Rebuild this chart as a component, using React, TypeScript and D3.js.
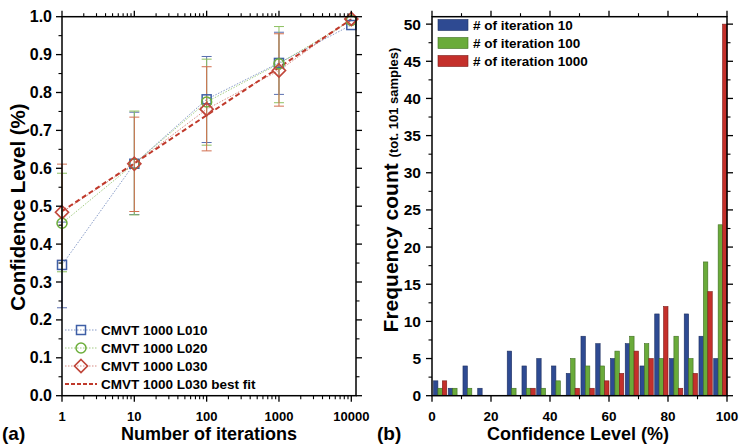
import React from "react";
import * as d3 from "d3";

// ---------- Panel (a) data ----------
const iterations = [1, 10, 100, 1000, 10000];
const l010 = [0.345, 0.612, 0.782, 0.878, 0.978];
const l010Lo = [0.232, 0.478, 0.668, 0.795, 0.978];
const l010Hi = [0.458, 0.748, 0.895, 0.959, 0.978];
const l020 = [0.455, 0.612, 0.775, 0.876, 0.99];
const l020Lo = [0.327, 0.477, 0.661, 0.773, 0.99];
const l020Hi = [0.587, 0.751, 0.888, 0.974, 0.99];
const l030 = [0.484, 0.612, 0.756, 0.858, 0.994];
const l030Lo = [0.357, 0.486, 0.646, 0.764, 0.994];
const l030Hi = [0.611, 0.735, 0.868, 0.955, 0.994];
const l030Fit = [0.487, 0.613, 0.74, 0.866, 0.993];
const seriesNamesA = ["CMVT 1000 L010", "CMVT 1000 L020", "CMVT 1000 L030", "CMVT 1000 L030 best fit"];
const yTicksA = [0, 0.1, 0.2, 0.3, 0.4, 0.5, 0.6, 0.7, 0.8, 0.9, 1.0];
const xTicksA = [1, 10, 100, 1000, 10000];

// ---------- Panel (b) data ----------
const binStarts = [0, 5, 10, 15, 20, 25, 30, 35, 40, 45, 50, 55, 60, 65, 70, 75, 80, 85, 90, 95];
const iter10 = [2, 1, 4, 1, 0, 6, 4, 5, 4, 3, 8, 7, 5, 7, 4, 11, 5, 11, 8, 5];
const iter100 = [1, 1, 1, 0, 0, 1, 1, 1, 2, 5, 4, 4, 6, 8, 7, 5, 8, 5, 18, 23];
const iter1000 = [2, 0, 0, 0, 0, 0, 1, 0, 0, 1, 1, 2, 3, 6, 5, 12, 1, 3, 14, 50];
const seriesNamesB = ["# of iteration 10", "# of iteration 100", "# of iteration 1000"];
const yTicksB = [0, 5, 10, 15, 20, 25, 30, 35, 40, 45, 50];
const xTicksB = [0, 20, 40, 60, 80, 100];

const FONT = "'Liberation Sans', Arial, sans-serif";
const colA = ["#3f5fa6", "#6cae3a", "#c0463a"];
const errA = ["#5a6fb0", "#8cc060", "#d27050"];
const colB = ["#2e4a92", "#6aab3a", "#c4302b"];
const strokeB = ["#1d2f60", "#3f6e20", "#7a1c18"];

function Marker({ kind, x, y, color }: { kind: number; x: number; y: number; color: string }) {
  if (kind === 0) return <rect x={x - 4.5} y={y - 4.5} width={9} height={9} fill="none" stroke={color} strokeWidth={1.5} />;
  if (kind === 1) return <circle cx={x} cy={y} r={5} fill="none" stroke={color} strokeWidth={1.5} />;
  return <path d={`M${x},${y - 6.5}L${x + 6.5},${y}L${x},${y + 6.5}L${x - 6.5},${y}Z`} fill="none" stroke={color} strokeWidth={1.7} />;
}

function PanelA() {
  const L = 62, R = 356, T = 16.7, B = 395.7;
  const x = d3.scaleLog().domain([1, Math.pow(10, 4.065)]).range([L, R]);
  const y = d3.scaleLinear().domain([0, 1]).range([B, T]);
  const vals = [l010, l020, l030];
  const los = [l010Lo, l020Lo, l030Lo];
  const his = [l010Hi, l020Hi, l030Hi];
  const minor: number[] = [];
  for (let k = 0; k < 4; k++) for (let m = 2; m <= 9; m++) minor.push(m * Math.pow(10, k));
  const yMinor = d3.range(0.05, 1, 0.1);
  const line = d3.line<number>().x((_, i) => x(iterations[i])).y((d) => y(d));
  return (
    <g>
      {vals.map((v, s) => (
        <path key={"l" + s} d={line(v) || ""} fill="none" stroke={colA[s]} strokeOpacity={0.7} strokeWidth={0.9} strokeDasharray="1.5,1.5" />
      ))}
      <path d={line(l030Fit) || ""} fill="none" stroke="#c0392b" strokeWidth={2} strokeDasharray="5,3" />
      {vals.map((v, s) =>
        iterations.map((it, i) =>
          his[s][i] - los[s][i] > 0.01 ? (
            <g key={"e" + s + i} stroke={errA[s]} strokeWidth={1}>
              <line x1={x(it)} x2={x(it)} y1={y(los[s][i])} y2={y(his[s][i])} />
              <line x1={x(it) - 5} x2={x(it) + 5} y1={y(los[s][i])} y2={y(los[s][i])} />
              <line x1={x(it) - 5} x2={x(it) + 5} y1={y(his[s][i])} y2={y(his[s][i])} />
            </g>
          ) : null
        )
      )}
      {vals.map((v, s) => v.map((d, i) => <Marker key={"m" + s + i} kind={s} x={x(iterations[i])} y={y(d)} color={colA[s]} />))}
      <rect x={L} y={T} width={R - L} height={B - T} fill="none" stroke="#000" strokeWidth={1.5} />
      {xTicksA.map((t) => (
        <g key={"xt" + t}>
          <line x1={x(t)} x2={x(t)} y1={B} y2={B + 6} stroke="#000" strokeWidth={1.3} />
          <line x1={x(t)} x2={x(t)} y1={T} y2={T - 6} stroke="#000" strokeWidth={1.3} />
          <text x={x(t)} y={B + 25} textAnchor="middle" fontSize={13} fontWeight="bold" fontFamily={FONT}>{t}</text>
        </g>
      ))}
      {minor.map((t) => (
        <g key={"xm" + t}>
          <line x1={x(t)} x2={x(t)} y1={B} y2={B + 3.5} stroke="#000" strokeWidth={1.1} />
          <line x1={x(t)} x2={x(t)} y1={T} y2={T - 3.5} stroke="#000" strokeWidth={1.1} />
        </g>
      ))}
      {yTicksA.map((t) => (
        <g key={"yt" + t}>
          <line x1={L} x2={L - 6} y1={y(t)} y2={y(t)} stroke="#000" strokeWidth={1.3} />
          <line x1={R} x2={R + 6} y1={y(t)} y2={y(t)} stroke="#000" strokeWidth={1.3} />
          <text x={L - 10} y={y(t) + 5.5} textAnchor="end" fontSize={16} fontWeight="bold" fontFamily={FONT}>{t.toFixed(1)}</text>
        </g>
      ))}
      {yMinor.map((t) => (
        <g key={"ym" + t}>
          <line x1={L} x2={L - 3.5} y1={y(t)} y2={y(t)} stroke="#000" strokeWidth={1.1} />
          <line x1={R} x2={R + 3.5} y1={y(t)} y2={y(t)} stroke="#000" strokeWidth={1.1} />
        </g>
      ))}
      {seriesNamesA.map((name, s) => {
        const ly = 330 + s * 18;
        return (
          <g key={"lg" + s}>
            {s < 3 ? (
              <>
                <line x1={65} x2={97} y1={ly} y2={ly} stroke={colA[s]} strokeOpacity={0.7} strokeWidth={0.9} strokeDasharray="1.5,1.5" />
                <Marker kind={s} x={81} y={ly} color={colA[s]} />
              </>
            ) : (
              <line x1={65} x2={97} y1={ly} y2={ly} stroke="#c0392b" strokeWidth={2} strokeDasharray="4,2" />
            )}
            <text x={101} y={ly + 5} fontSize={13.5} fontWeight="bold" fontFamily={FONT}>{name}</text>
          </g>
        );
      })}
      <text transform={`translate(25,207) rotate(-90)`} textAnchor="middle" fontSize={20.5} fontWeight="bold" fontFamily={FONT}>Confidence Level (%)</text>
      <text x={209} y={440} textAnchor="middle" fontSize={18} fontWeight="bold" fontFamily={FONT}>Number of iterations</text>
      <text x={2} y={440} fontSize={19} fontWeight="bold" fontFamily={FONT}>(a)</text>
    </g>
  );
}

function PanelB() {
  const L = 432, R = 727, T = 16.7, B = 395.7;
  const x = d3.scaleLinear().domain([0, 100]).range([L, R]);
  const y = d3.scaleLinear().domain([0, 51]).range([B, T]);
  const series = [iter10, iter100, iter1000];
  const sub = d3.scaleBand<number>().domain([0, 1, 2]).range([0.5, 5]);
  const xMinor = [10, 30, 50, 70, 90];
  const yMinor = d3.range(2.5, 51, 5);
  return (
    <g>
      {binStarts.map((b, i) =>
        series.map((s, k) =>
          s[i] > 0 ? (
            <rect key={"b" + i + k} x={x(b + (sub(k) as number))} width={x(sub.bandwidth()) - x(0)} y={y(s[i])} height={B - y(s[i])} fill={colB[k]} stroke={strokeB[k]} strokeWidth={0.6} />
          ) : null
        )
      )}
      <rect x={L} y={T} width={R - L} height={B - T} fill="none" stroke="#000" strokeWidth={1.5} />
      {xTicksB.map((t) => (
        <g key={"xt" + t}>
          <line x1={x(t)} x2={x(t)} y1={B} y2={B + 6} stroke="#000" strokeWidth={1.3} />
          <line x1={x(t)} x2={x(t)} y1={T} y2={T - 6} stroke="#000" strokeWidth={1.3} />
          <text x={x(t)} y={B + 25} textAnchor="middle" fontSize={13.5} fontWeight="bold" fontFamily={FONT}>{t}</text>
        </g>
      ))}
      {xMinor.map((t) => (
        <g key={"xm" + t}>
          <line x1={x(t)} x2={x(t)} y1={B} y2={B + 3.5} stroke="#000" strokeWidth={1.1} />
          <line x1={x(t)} x2={x(t)} y1={T} y2={T - 3.5} stroke="#000" strokeWidth={1.1} />
        </g>
      ))}
      {yTicksB.map((t) => (
        <g key={"yt" + t}>
          <line x1={L} x2={L - 6} y1={y(t)} y2={y(t)} stroke="#000" strokeWidth={1.3} />
          <line x1={R} x2={R + 6} y1={y(t)} y2={y(t)} stroke="#000" strokeWidth={1.3} />
          <text x={L - 11} y={y(t) + 5.5} textAnchor="end" fontSize={15.5} fontWeight="bold" fontFamily={FONT}>{t}</text>
        </g>
      ))}
      {yMinor.map((t) => (
        <g key={"ym" + t}>
          <line x1={L} x2={L - 3.5} y1={y(t)} y2={y(t)} stroke="#000" strokeWidth={1.1} />
          <line x1={R} x2={R + 3.5} y1={y(t)} y2={y(t)} stroke="#000" strokeWidth={1.1} />
        </g>
      ))}
      {seriesNamesB.map((name, k) => {
        const ly = 25 + k * 18;
        return (
          <g key={"lg" + k}>
            <rect x={438} y={ly - 5.5} width={30} height={11} fill={colB[k]} stroke={strokeB[k]} strokeWidth={0.6} />
            <text x={473} y={ly + 5} fontSize={13.5} fontWeight="bold" fontFamily={FONT}>{name}</text>
          </g>
        );
      })}
      <text transform={`translate(398,190) rotate(-90)`} textAnchor="middle" fontWeight="bold" fontFamily={FONT}>
        <tspan fontSize={21}>Frequency count </tspan>
        <tspan fontSize={13}>(tot. 101 samples)</tspan>
      </text>
      <text x={578} y={440} textAnchor="middle" fontSize={18} fontWeight="bold" fontFamily={FONT}>Confidence Level (%)</text>
      <text x={377} y={440} fontSize={19} fontWeight="bold" fontFamily={FONT}>(b)</text>
    </g>
  );
}

export default function App() {
  return (
    <svg width={740} height={444} style={{ position: "absolute", left: 0, top: 0, background: "#fff" }}>
      <rect width={740} height={444} fill="#fff" />
      <PanelA />
      <PanelB />
    </svg>
  );
}
